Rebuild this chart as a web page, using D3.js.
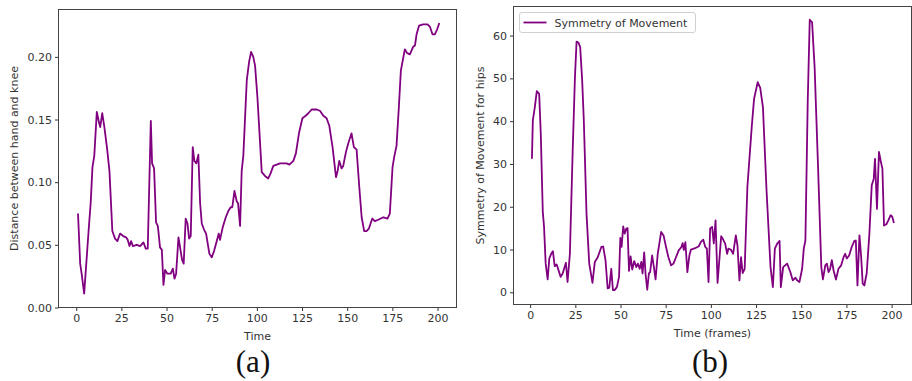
<!DOCTYPE html>
<html>
<head>
<meta charset="utf-8">
<script src="https://cdn.jsdelivr.net/npm/d3@7"></script>
<style>
	body { margin: 0; background: #fff; }
	svg { display: block; }
	.tick text { font-family: "DejaVu Sans", sans-serif; font-size: 11px; fill: #333; }
	.tick line { stroke: #333; }
	.axis-label { font-family: "DejaVu Sans", sans-serif; font-size: 11px; fill: #333; }
	.panel-label { font-family: "Liberation Serif", "Times New Roman", serif; font-size: 31px; fill: #111; }
</style>
</head>
<body>
<div id="graphic"></div>
<script>
// (a) distance between hand and knee
const timeA = [1, 2.2, 3, 4.4, 7, 8, 9, 10, 11.4, 12.7, 13.3, 14.4, 15.5, 17, 18.4, 20, 21.5, 22.8, 24.3, 26,
	27.6, 28.5, 29.5, 30.4, 31.3, 33.5, 35.4, 37.2, 38.5, 39.6, 41.3, 42, 43.1, 44.2, 45.2, 46.4, 47.4, 48.3, 49.2, 50.5,
	52.3, 53.5, 54.4, 55.3, 56.6, 57.5, 58.6, 59.5, 60.6, 61.6, 62.5, 63.4, 64.5, 65.4, 66.5, 67.6, 68.6, 69.5, 70.8, 71.9,
	73.7, 75, 76.3, 77.8, 78.9, 79.6, 81.1, 82.8, 84.2, 85.5, 86.4, 87.6, 88.8, 89.6, 90.7, 91.6, 92.5, 94.4, 95.7, 96.8,
	98, 99, 100.3, 102.7, 104.5, 106.3, 107.6, 109.1, 111, 112.8, 116.5, 118, 120.2, 121.6, 123.3, 125.2, 127, 128.5, 130.3, 133.1,
	134.9, 136.8, 138.6, 140.1, 141.9, 143.8, 144.7, 145.6, 146.9, 147.8, 149.3, 150.6, 152.4, 153.7, 155.2, 156.7, 158, 159.4, 160.7, 162,
	163.9, 165.3, 167.2, 170, 172.3, 173.6, 175.1, 176, 177.3, 178.6, 179.7, 181.9, 183.2, 184.7, 186.5, 187.5, 188.4, 189.8, 192, 194.5,
	195.8, 197.2, 198.5, 199.8, 201];
const valuesA = [0.075, 0.035, 0.027, 0.011, 0.064, 0.083, 0.112, 0.121, 0.156, 0.147, 0.144, 0.155, 0.145, 0.128, 0.109, 0.061, 0.055, 0.053, 0.059, 0.057,
	0.056, 0.054, 0.049, 0.053, 0.049, 0.050, 0.049, 0.052, 0.047, 0.047, 0.149, 0.115, 0.111, 0.068, 0.065, 0.048, 0.046, 0.018, 0.030, 0.027,
	0.027, 0.031, 0.023, 0.027, 0.056, 0.048, 0.038, 0.035, 0.071, 0.067, 0.055, 0.057, 0.128, 0.117, 0.115, 0.122, 0.083, 0.067, 0.062, 0.059,
	0.043, 0.040, 0.045, 0.053, 0.059, 0.054, 0.064, 0.072, 0.077, 0.080, 0.080, 0.093, 0.085, 0.083, 0.065, 0.109, 0.121, 0.181, 0.196, 0.204,
	0.200, 0.193, 0.168, 0.108, 0.105, 0.103, 0.107, 0.113, 0.114, 0.115, 0.115, 0.114, 0.117, 0.123, 0.139, 0.151, 0.153, 0.155, 0.158, 0.158,
	0.157, 0.153, 0.151, 0.145, 0.128, 0.104, 0.109, 0.117, 0.111, 0.113, 0.124, 0.131, 0.139, 0.128, 0.126, 0.096, 0.072, 0.061, 0.061, 0.063,
	0.071, 0.069, 0.070, 0.072, 0.071, 0.075, 0.112, 0.120, 0.129, 0.160, 0.189, 0.206, 0.203, 0.202, 0.208, 0.209, 0.218, 0.225, 0.226, 0.226,
	0.224, 0.218, 0.218, 0.222, 0.227];

// (b) symmetry of movement for hips
const timeB = [1, 1.5, 2.6, 3.7, 5, 5.9, 7, 7.7, 8.6, 9.7, 10.6, 11.9, 12.6, 13.6, 14.7, 15.6, 16.9, 18, 19.8, 20.7,
	22, 23.5, 24.8, 25.7, 26.8, 27.7, 28.8, 29.7, 31.2, 32.7, 34.5, 35.8, 37.4, 39.4, 40.4, 41.7, 42.9, 43.8, 44.9, 45.8,
	46.7, 48, 49.2, 49.9, 50.6, 51.5, 52.3, 53.2, 53.9, 54.7, 55.6, 56.5, 57.6, 58.7, 59.6, 60.6, 61.5, 62.2, 63.1, 63.9,
	64.8, 65.7, 66.4, 67.5, 68.4, 69.4, 70.6, 72.5, 73.8, 75.2, 76.5, 78, 79.3, 80.7, 82.2, 83.7, 84.4, 85, 85.9, 87,
	88.1, 89, 90.5, 91.7, 93.2, 94.5, 95.8, 96.9, 97.8, 98.7, 99.6, 100.7, 101.6, 102.6, 103.7, 104.8, 105.7, 106.6, 107.9, 109,
	109.7, 111, 112.3, 113.8, 114.7, 115.8, 116.7, 117.6, 118.7, 120.2, 122.6, 123.9, 125.9, 127.3, 128.8, 130.8, 133, 134.3, 135.4, 136.7,
	138, 138.7, 140, 142.2, 144, 145.3, 146.8, 147.7, 149, 150.5, 151.4, 152.3, 153.6, 154.7, 156, 157.4, 159.3, 161.1, 162, 163.3,
	164.2, 165.1, 166, 166.9, 167.9, 169.2, 170.6, 172.1, 173.4, 174.3, 175.2, 176.5, 178, 179.4, 180.2, 181.1, 182.2, 183.1, 184, 184.9,
	186.2, 187.7, 189, 190.1, 190.8, 191.9, 193, 193.9, 194.9, 195.8, 197.1, 198.2, 199.4, 200.3, 201.3];
const valuesB = [31.2, 40.2, 43.3, 47, 46.4, 37, 18.8, 15.3, 6.7, 3.0, 7.9, 9.2, 9.6, 6.1, 6.5, 5.3, 3.6, 4.4, 6.9, 2.4,
	9, 32.4, 50.3, 58.6, 58.3, 57.3, 49.5, 40.2, 18.4, 6.7, 2.2, 7.1, 8.2, 10.6, 10.7, 7.5, 0.9, 1.1, 5.5, 0.5,
	0.5, 1.2, 3.6, 12.7, 10.6, 15.4, 13.7, 14.9, 15, 5, 8.4, 5.3, 7.3, 5.9, 6.7, 5.5, 7.1, 4.4, 9.3, 4.1,
	0.6, 4.4, 4.7, 8.6, 6.1, 3, 9, 14.1, 13.3, 10.6, 8.2, 6.3, 6.7, 8.2, 9.8, 10.6, 11.5, 9.9, 11.7, 4.7,
	8.6, 10, 10.2, 10.4, 10.7, 11.8, 12.3, 10.6, 10.2, 2.4, 14.9, 15.3, 11.4, 16.8, 2.2, 8.2, 13.1, 12.5, 11.4, 9,
	10.2, 10, 9, 13.3, 11, 2.8, 8.2, 4.5, 5.5, 24.6, 38.6, 45.2, 49.1, 47.8, 43.3, 23.8, 5.9, 1.2, 10.2, 11.4,
	12, 1.2, 5.9, 6.7, 4.7, 2.8, 3.4, 2.8, 2.4, 5.5, 10.2, 12.1, 44.8, 63.7, 63.1, 52.6, 29.3, 5.9, 3, 6.3,
	6.7, 4.7, 5.5, 7.5, 5.1, 3, 5.5, 6.3, 8.2, 9, 7.9, 8.6, 10.7, 12, 12.1, 1.6, 13.3, 8.6, 2, 1.6,
	4.4, 13.7, 25, 26.5, 31.2, 19.5, 32.8, 30.8, 28.9, 15.6, 15.9, 16.8, 18, 17.7, 16.2];

const xTicks = [0, 25, 50, 75, 100, 125, 150, 175, 200];
const yTicksA = [0, 0.05, 0.10, 0.15, 0.20];
const yTicksB = [0, 10, 20, 30, 40, 50, 60];

const lineColour = '#800080';

const svg = d3.select('#graphic')
	.append('svg')
	.attr('width', 912)
	.attr('height', 381);

function drawPanel(p) {
	const x = d3.scaleLinear().domain(p.xDomain).range([p.left, p.right]);
	const y = d3.scaleLinear().domain(p.yDomain).range([p.bottom, p.top]);

	const g = svg.append('g');

	// the curve
	const line = d3.line()
		.x((d) => x(d[0]))
		.y((d) => y(d[1]));

	g.append('path')
		.datum(d3.zip(p.time, p.values))
		.attr('fill', 'none')
		.attr('stroke', lineColour)
		.attr('stroke-width', 1.8)
		.attr('stroke-linejoin', 'round')
		.attr('d', line);

	// axes
	g.append('g')
		.attr('transform', 'translate(0,' + p.bottom + ')')
		.call(d3.axisBottom(x).tickValues(xTicks).tickSize(3.5).tickPadding(3).tickFormat(d3.format('d')))
		.call((a) => a.select('.domain').remove());

	g.append('g')
		.attr('transform', 'translate(' + p.left + ',0)')
		.call(d3.axisLeft(y).tickValues(p.yTicks).tickSize(3.5).tickPadding(3).tickFormat(d3.format(p.yFormat)))
		.call((a) => a.select('.domain').remove());

	// frame
	g.append('rect')
		.attr('x', p.left)
		.attr('y', p.top)
		.attr('width', p.right - p.left)
		.attr('height', p.bottom - p.top)
		.attr('fill', 'none')
		.attr('stroke', '#444')
		.attr('stroke-width', 1);

	g.append('text')
		.attr('class', 'axis-label')
		.attr('x', (p.left + p.right) / 2)
		.attr('y', p.bottom + 32)
		.attr('text-anchor', 'middle')
		.text(p.xLabel);

	g.append('text')
		.attr('class', 'axis-label')
		.attr('transform', 'translate(' + p.yLabelX + ',' + (p.top + p.bottom) / 2 + ') rotate(-90)')
		.attr('text-anchor', 'middle')
		.text(p.yLabel);

	g.append('text')
		.attr('class', 'panel-label')
		.attr('x', p.panelX)
		.attr('y', 372)
		.attr('text-anchor', 'middle')
		.text(p.panel);

	return { g, x, y };
}

drawPanel({
	time: timeA, values: valuesA, yTicks: yTicksA, yFormat: '.2f',
	xDomain: [-9.8, 210.5], yDomain: [0, 0.2378],
	left: 58.5, right: 456.5, top: 9.5, bottom: 307.5,
	xLabel: 'Time', yLabel: 'Distance between hand and knee', yLabelX: 18,
	panel: '(a)', panelX: 253
});

const b = drawPanel({
	time: timeB, values: valuesB, yTicks: yTicksB, yFormat: 'd',
	xDomain: [-9.2, 211], yDomain: [-2.85, 66.8],
	left: 513.5, right: 911.5, top: 6.5, bottom: 304.5,
	xLabel: 'Time (frames)', yLabel: 'Symmetry of Movement for hips', yLabelX: 484,
	panel: '(b)', panelX: 710
});

// legend for (b)
const legend = b.g.append('g').attr('transform', 'translate(519.5,12.5)');
legend.append('rect')
	.attr('width', 176)
	.attr('height', 20)
	.attr('rx', 2.5)
	.attr('fill', 'rgba(255,255,255,0.8)')
	.attr('stroke', '#d0d0d0');
legend.append('line')
	.attr('x1', 4).attr('x2', 27)
	.attr('y1', 10).attr('y2', 10)
	.attr('stroke', lineColour)
	.attr('stroke-width', 1.8);
legend.append('text')
	.attr('class', 'axis-label')
	.attr('x', 35)
	.attr('y', 14)
	.text('Symmetry of Movement');
</script>
</body>
</html>
